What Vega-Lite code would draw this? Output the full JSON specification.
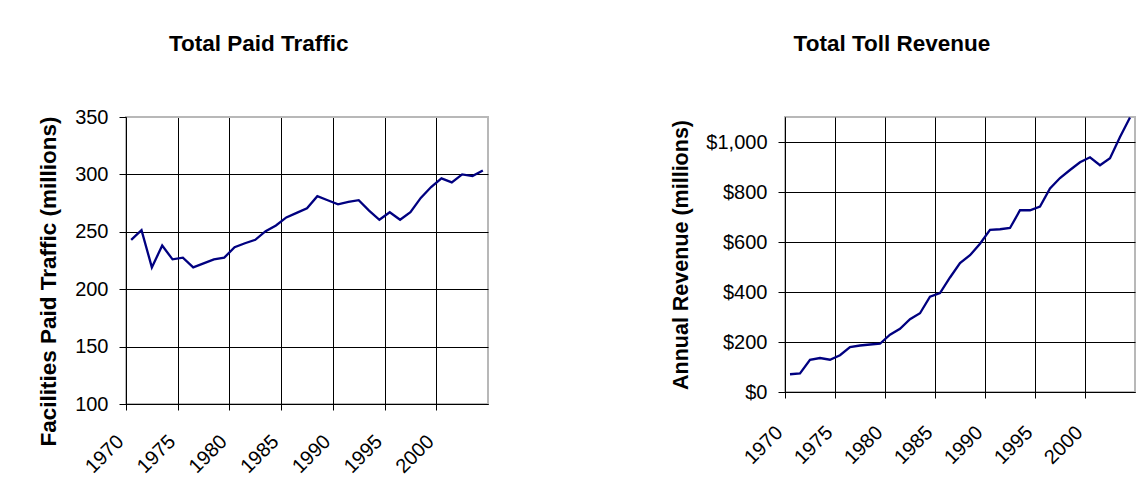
{
  "$schema": "https://vega.github.io/schema/vega-lite/v6.json",
  "background": "white",
  "padding": {"left": 36, "top": 31, "right": 0, "bottom": 0},
  "spacing": 180,
  "config": {
    "font": "Liberation Sans",
    "view": {"stroke": "#b8b8b8", "strokeWidth": 2},
    "axis": {
      "domainColor": "black",
      "domainWidth": 1,
      "tickColor": "black",
      "gridColor": "black",
      "gridWidth": 1,
      "gridOpacity": 1,
      "labelColor": "black",
      "labelFontSize": 20,
      "labelFont": "Liberation Sans",
      "titleColor": "black",
      "titleFont": "Liberation Sans",
      "titleFontSize": 21.5,
      "titleFontWeight": "bold"
    },
    "title": {"font": "Liberation Sans", "fontSize": 22.5, "fontWeight": "bold", "color": "black"}
  },
  "datasets": {
    "traffic": [
      {"year": 1970, "traffic": 243}, {"year": 1971, "traffic": 251.5}, {"year": 1972, "traffic": 219},
      {"year": 1973, "traffic": 238}, {"year": 1974, "traffic": 226}, {"year": 1975, "traffic": 227.5},
      {"year": 1976, "traffic": 219}, {"year": 1977, "traffic": 222.5}, {"year": 1978, "traffic": 226},
      {"year": 1979, "traffic": 227.5}, {"year": 1980, "traffic": 236.5}, {"year": 1981, "traffic": 240},
      {"year": 1982, "traffic": 243}, {"year": 1983, "traffic": 250.5}, {"year": 1984, "traffic": 255.5},
      {"year": 1985, "traffic": 262.5}, {"year": 1986, "traffic": 266.5}, {"year": 1987, "traffic": 270.5},
      {"year": 1988, "traffic": 281}, {"year": 1989, "traffic": 277.5}, {"year": 1990, "traffic": 274},
      {"year": 1991, "traffic": 276}, {"year": 1992, "traffic": 277.5}, {"year": 1993, "traffic": 268.5},
      {"year": 1994, "traffic": 260.5}, {"year": 1995, "traffic": 267}, {"year": 1996, "traffic": 260.5},
      {"year": 1997, "traffic": 267}, {"year": 1998, "traffic": 279.5}, {"year": 1999, "traffic": 289},
      {"year": 2000, "traffic": 296.5}, {"year": 2001, "traffic": 293}, {"year": 2002, "traffic": 300},
      {"year": 2003, "traffic": 298.5}, {"year": 2004, "traffic": 303.5}
    ],
    "revenue": [
      {"year": 1970, "revenue": 71}, {"year": 1971, "revenue": 74}, {"year": 1972, "revenue": 129},
      {"year": 1973, "revenue": 136}, {"year": 1974, "revenue": 129}, {"year": 1975, "revenue": 147},
      {"year": 1976, "revenue": 180}, {"year": 1977, "revenue": 186}, {"year": 1978, "revenue": 190},
      {"year": 1979, "revenue": 193}, {"year": 1980, "revenue": 229}, {"year": 1981, "revenue": 253},
      {"year": 1982, "revenue": 291}, {"year": 1983, "revenue": 315}, {"year": 1984, "revenue": 381},
      {"year": 1985, "revenue": 396}, {"year": 1986, "revenue": 458}, {"year": 1987, "revenue": 516},
      {"year": 1988, "revenue": 547}, {"year": 1989, "revenue": 593}, {"year": 1990, "revenue": 649},
      {"year": 1991, "revenue": 651}, {"year": 1992, "revenue": 656}, {"year": 1993, "revenue": 727},
      {"year": 1994, "revenue": 727}, {"year": 1995, "revenue": 742}, {"year": 1996, "revenue": 814},
      {"year": 1997, "revenue": 856}, {"year": 1998, "revenue": 888}, {"year": 1999, "revenue": 919},
      {"year": 2000, "revenue": 939}, {"year": 2001, "revenue": 907}, {"year": 2002, "revenue": 935},
      {"year": 2003, "revenue": 1020}, {"year": 2004, "revenue": 1098}
    ]
  },
  "hconcat": [
    {
      "width": 362,
      "height": 287,
      "title": {"text": "Total Paid Traffic", "frame": "bounds", "anchor": "middle", "offset": 52, "dx": -4},
      "data": {"name": "traffic"},
      "mark": {"type": "line", "color": "#000080", "strokeWidth": 2.3, "clip": true},
      "encoding": {
        "x": {
          "field": "year", "type": "quantitative",
          "scale": {"domain": [1969.5, 2004.5], "nice": false, "zero": false},
          "axis": {"title": null, "values": [1969.5, 1974.5, 1979.5, 1984.5, 1989.5, 1994.5, 1999.5],
                   "labelExpr": "datum.value + 0.5", "labelAngle": -45, "labelAlign": "right", "labelBaseline": "top",
                   "tickSize": 6, "labelPadding": 21, "labelOffset": -13}
        },
        "y": {
          "field": "traffic", "type": "quantitative",
          "scale": {"domain": [100, 350], "nice": false, "zero": false},
          "axis": {"title": "Facilities Paid Traffic (millions)", "titleFontSize": 22.5, "values": [100, 150, 200, 250, 300, 350],
                   "tickSize": 7, "labelPadding": 11, "titlePadding": 14, "titleY": 164,
                   "gridColor": {"condition": {"test": "datum.value == 350", "value": "#b8b8b8"}, "value": "black"}}
        }
      }
    },
    {
      "width": 350,
      "height": 275,
      "title": {"text": "Total Toll Revenue", "frame": "bounds", "anchor": "middle", "offset": 62, "dx": -11},
      "data": {"name": "revenue"},
      "mark": {"type": "line", "color": "#000080", "strokeWidth": 2.3, "clip": true},
      "encoding": {
        "x": {
          "field": "year", "type": "quantitative",
          "scale": {"domain": [1969.5, 2004.5], "nice": false, "zero": false},
          "axis": {"title": null, "values": [1969.5, 1974.5, 1979.5, 1984.5, 1989.5, 1994.5, 1999.5],
                   "labelExpr": "datum.value + 0.5", "labelAngle": -45, "labelAlign": "right", "labelBaseline": "top",
                   "tickSize": 6, "labelPadding": 24, "labelOffset": -13}
        },
        "y": {
          "field": "revenue", "type": "quantitative",
          "scale": {"domain": [0, 1100], "nice": false, "zero": false},
          "axis": {"title": "Annual Revenue (millions)", "values": [0, 200, 400, 600, 800, 1000], "format": "$,.0f",
                   "tickSize": 7, "labelPadding": 11, "titlePadding": 13}
        }
      }
    }
  ]
}
